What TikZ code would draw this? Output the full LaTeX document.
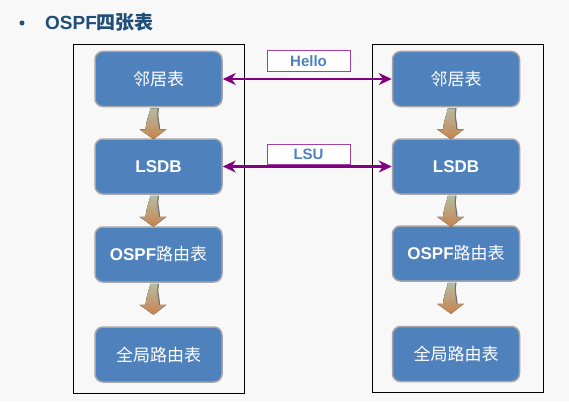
\documentclass[tikz,border=0pt]{standalone}
\usepackage{fontspec}
\setmainfont{Liberation Sans}
\newfontfamily\cjk{Noto Sans CJK SC}
\usetikzlibrary{arrows.meta}
\definecolor{tblue}{HTML}{4F81BD}
\definecolor{tdark}{HTML}{1F4E79}
\definecolor{msgpurple}{HTML}{800080}
\definecolor{lblpurple}{HTML}{A040A0}
\definecolor{nodeedge}{HTML}{A6A6A6}
\definecolor{bgpaper}{HTML}{F8F8F8}
\definecolor{arrtop}{HTML}{B4BCA2}
\definecolor{arrmid}{HTML}{8E9670}
\definecolor{arrbot}{HTML}{C8824E}
\tikzset{
  tbl/.style={draw=nodeedge, line width=1.5pt, fill=tblue, rounded corners=8pt,
    minimum width=127pt, minimum height=55pt, text=white,
    font=\fontsize{17}{20}\selectfont\bfseries},
  msg/.style={draw=lblpurple, line width=1pt, fill=white, minimum width=83pt,
    minimum height=21pt, inner sep=0pt, text=tblue,
    font=\fontsize{15}{17}\selectfont\bfseries},
  flow/.style={line width=2.5pt, msgpurple,
    {Stealth[length=13pt,width=12pt]}-{Stealth[length=13pt,width=12pt]}},
}
\begin{document}
\begin{tikzpicture}[x=1pt,y=-1pt]
  \fill[bgpaper] (0,0) rectangle (569,401);
  \useasboundingbox (0,0) rectangle (569,401);
  % title
  \node[circle, fill=tdark, inner sep=0pt, minimum size=5pt] (bullet) at (22,23) {};
  \node[anchor=west, inner sep=0pt, text=tdark, font=\fontsize{19}{22}\selectfont\bfseries]
    (title) at (45,22) {OSPF{\cjk 四张表}};
  % two routers
  \draw[line width=1pt] (73,45) rectangle (244,393);
  \draw[line width=1pt] (372,45) rectangle (543,392);
  % left router
  \node[tbl] (nbl) at (158.5,79) {{\cjk\mdseries 邻居表}};
  \node[tbl] (dbl) at (158.5,166.5) {LSDB};
  \node[tbl] (rtl) at (158.5,254.5) {OSPF{\cjk\mdseries 路由表}};
  \node[tbl] (gtl) at (158.5,354.5) {{\cjk\mdseries 全局路由表}};
  % right router
  \node[tbl] (nbr) at (456,79) {{\cjk\mdseries 邻居表}};
  \node[tbl] (dbr) at (456,166.5) {LSDB};
  \node[tbl] (rtr) at (456,253.5) {OSPF{\cjk\mdseries 路由表}};
  \node[tbl] (gtr) at (456,354) {{\cjk\mdseries 全局路由表}};
  % curved arrows down each column
  \foreach \u in {nbl,dbl,rtl,nbr,dbr,rtr}
  {
    \fill[top color=arrtop, middle color=arrmid, bottom color=arrbot, shift={(\u.south)}]
      (-8,1) -- (0,1) .. controls (-2,10) and (1,16) .. (1,22) -- (8,22) -- (-5,32)
      -- (-19,22) -- (-13,22) .. controls (-12,12) and (-9,6) .. (-8,1) -- cycle;
    \draw[black!55, line width=1.2pt, shift={(\u.south)}]
      (0,1) .. controls (-2,10) and (1,16) .. (1,22);
  }
  % messages
  \draw[flow] (nbl.east) -- (nbr.west);
  \draw[flow] (dbl.east) -- (dbr.west);
  \node[msg] (hello) at (308.5,61) {Hello};
  \node[msg, minimum height=20pt] (lsu) at (308.5,154) {LSU};
\end{tikzpicture}
\end{document}
